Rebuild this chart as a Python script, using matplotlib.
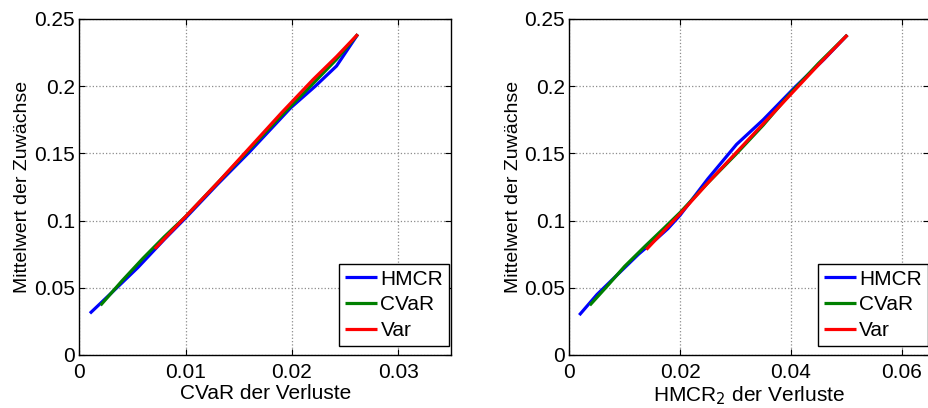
import matplotlib
matplotlib.use("Agg")
from matplotlib import pyplot as plt

plt.rcParams['font.family'] = ['Liberation Sans', 'DejaVu Sans']

# links: CVaR der Verluste vs. Mittelwert
hmcr_l_x = [0.001, 0.003, 0.0055, 0.008, 0.010, 0.013, 0.016, 0.0199, 0.0222, 0.0242, 0.0262]
hmcr_l_y = [0.031, 0.046, 0.065, 0.086, 0.102, 0.127, 0.151, 0.184, 0.200, 0.215, 0.2386]
cvar_l_x = [0.002, 0.004, 0.006, 0.008, 0.010, 0.013, 0.016, 0.019, 0.022, 0.0242, 0.0262]
cvar_l_y = [0.037, 0.055, 0.072, 0.088, 0.103, 0.128, 0.153, 0.178, 0.202, 0.220, 0.2386]
var_l_x = [0.0071, 0.010, 0.013, 0.016, 0.019, 0.022, 0.0242, 0.0262]
var_l_y = [0.079, 0.103, 0.128, 0.154, 0.180, 0.205, 0.222, 0.2386]

# rechts: HMCR_2 der Verluste vs. Mittelwert
hmcr_r_x = [0.0018, 0.005, 0.009, 0.0125, 0.0158, 0.0178, 0.020, 0.025, 0.0302, 0.035, 0.0408, 0.046, 0.0502]
hmcr_r_y = [0.0297, 0.045, 0.061, 0.075, 0.0866, 0.094, 0.104, 0.131, 0.1567, 0.175, 0.1995, 0.220, 0.2381]
cvar_r_x = [0.0037, 0.007, 0.010, 0.0137, 0.017, 0.020, 0.025, 0.030, 0.035, 0.040, 0.045, 0.0502]
cvar_r_y = [0.037, 0.052, 0.066, 0.081, 0.094, 0.106, 0.128, 0.149, 0.171, 0.195, 0.217, 0.2381]
var_r_x = [0.0139, 0.017, 0.020, 0.025, 0.030, 0.035, 0.040, 0.045, 0.0502]
var_r_y = [0.0784, 0.092, 0.105, 0.128, 0.150, 0.172, 0.194, 0.216, 0.2381]

labels = ['HMCR', 'CVaR', 'Var']
colors = ['#0000ff', '#008000', '#ff0000']

fig = plt.figure(figsize=(9.29, 4.08), dpi=100)
ax1 = fig.add_axes([79.3 / 929, 53 / 408, 372 / 929, 336 / 408])
ax2 = fig.add_axes([569.3 / 929, 53 / 408, 360 / 929, 336 / 408])

panels = [
    (ax1, [(hmcr_l_x, hmcr_l_y), (cvar_l_x, cvar_l_y), (var_l_x, var_l_y)],
     0.035, [0, 0.01, 0.02, 0.03], 'CVaR der Verluste', (0.9938, 0.027), 2),
    (ax2, [(hmcr_r_x, hmcr_r_y), (cvar_r_x, cvar_r_y), (var_r_x, var_r_y)],
     0.065, [0, 0.02, 0.04, 0.06], r'HMCR$_2$ der Verluste', (0.9956, 0.027), 1.5),
]

for ax, series, xmax, xticks, xlabel, legpos, ypad in panels:
    for (xs, ys), lab, col in zip(series, labels, colors):
        ax.plot(xs, ys, color=col, linewidth=2.3, label=lab, solid_capstyle='butt')
    ax.set_xlim(0, xmax)
    ax.set_ylim(0, 0.25)
    ax.set_xticks(xticks)
    ax.set_xticklabels(['0' if t == 0 else ('%g' % t) for t in xticks])
    ax.set_yticks([0, 0.05, 0.1, 0.15, 0.2, 0.25])
    ax.set_yticklabels(['0', '0.05', '0.1', '0.15', '0.2', '0.25'])
    ax.grid(True, linestyle=':', color='0.55', linewidth=0.9)
    ax.tick_params(direction='in', top=True, right=True, length=4, labelsize=15)
    ax.tick_params(axis='x', pad=6)
    ax.tick_params(axis='y', pad=3)
    for s in ax.spines.values():
        s.set_linewidth(1.0)
    ax.set_xlabel(xlabel, fontsize=15, labelpad=1.5)
    ax.set_ylabel('Mittelwert der Zuwächse', fontsize=14, labelpad=ypad)
    leg = ax.legend(loc='lower right', bbox_to_anchor=legpos, fontsize=15,
                    fancybox=False, framealpha=1, edgecolor='black',
                    handlelength=1.55, handletextpad=0.15, labelspacing=0.32,
                    borderpad=0.28, borderaxespad=0)
    leg.get_frame().set_linewidth(1.0)
    for line in leg.get_lines():
        line.set_linewidth(2.3)

fig.savefig('out.png', dpi=100)
